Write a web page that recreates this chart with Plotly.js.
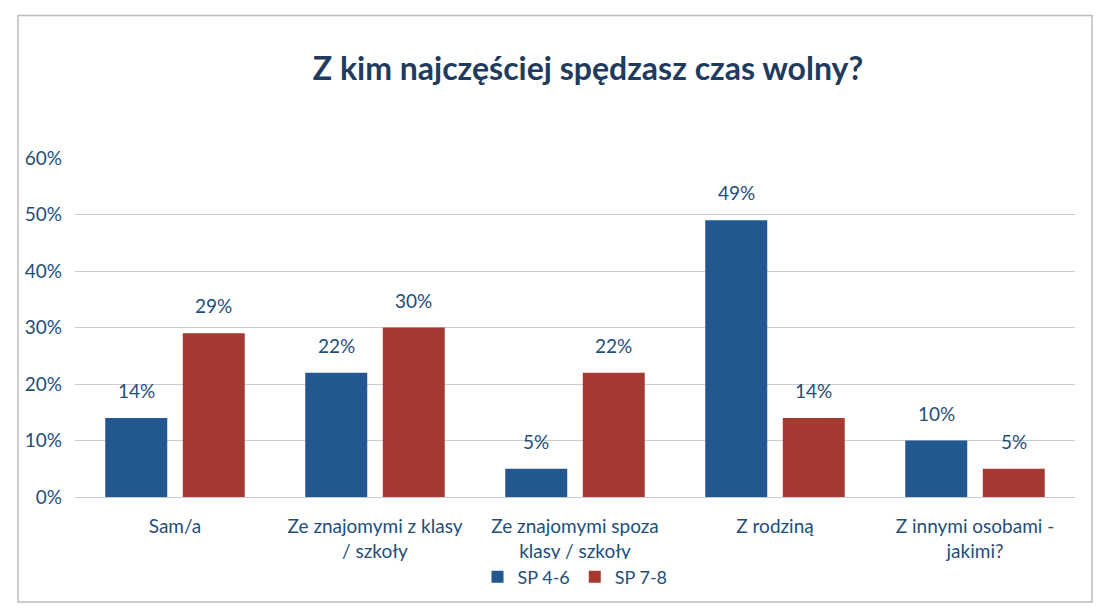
<!DOCTYPE html>
<html>
<head>
<meta charset="utf-8">
<script src="https://cdn.plot.ly/plotly-3.0.1.min.js"></script>
<style>html,body{margin:0;padding:0;background:#fff;}#chart{width:1099px;height:612px;}</style>
</head>
<body>
<div id="chart"></div>
<script>
const categories = [
  "Sam/a",
  "Ze znajomymi z klasy<br>/ szkoły",
  "Ze znajomymi spoza<br>klasy / szkoły",
  "Z rodziną",
  "Z innymi osobami -<br>jakimi?"
];
const seriesNames = ["SP 4-6", "SP 7-8"];
const sp46 = [0.14, 0.22, 0.05, 0.49, 0.10];
const sp78 = [0.29, 0.30, 0.22, 0.14, 0.05];
const colors = ["#22588f", "#a63a32"];

const font = "Lato, 'Open Sans', sans-serif";
const txtColor = "#1f4e79";

const W = 1099, H = 612;
const margin = {l: 75, r: 24, t: 158, b: 115};
const bargap = 0.225, bargroupgap = 0.2;

const mk = (name, vals, color) => ({
  type: "bar",
  name: name,
  x: categories,
  y: vals,
  marker: {color: color},
  hoverinfo: "none"
});

const data = [mk(seriesNames[0], sp46, colors[0]), mk(seriesNames[1], sp78, colors[1])];

// data labels placed above each bar, derived from the series arrays
const slotPx = (W - margin.l - margin.r) / categories.length;
const groupPx = slotPx * (1 - bargap);
const barSlot = groupPx / 2;
const annotations = [];
[sp46, sp78].forEach((vals, si) => {
  vals.forEach((v, j) => {
    annotations.push({
      x: categories[j], y: v, xref: "x", yref: "y",
      text: Math.round(v * 100) + "%",
      showarrow: false, yanchor: "bottom",
      xshift: (si === 0 ? -1 : 1) * barSlot / 2,
      yshift: 14,
      font: {family: font, size: 19, color: txtColor}
    });
  });
});

const layout = {
  width: W, height: H,
  paper_bgcolor: "#ffffff", plot_bgcolor: "#ffffff",
  margin: margin,
  barmode: "group",
  bargap: bargap,
  bargroupgap: bargroupgap,
  title: {
    text: "<b>Z kim najczęściej spędzasz czas wolny?</b>",
    font: {family: font, size: 32, color: "#1f3b5e"},
    x: 0.535, xanchor: "center", y: 0.888, yanchor: "middle"
  },
  xaxis: {
    tickfont: {family: font, size: 19, color: txtColor},
    showline: true, linecolor: "#c8ccd4", linewidth: 1,
    ticks: "", showgrid: false, ticklabelstandoff: 12
  },
  yaxis: {
    range: [0, 0.6], dtick: 0.1, tickformat: ".0%",
    tickfont: {family: font, size: 19, color: txtColor},
    showgrid: true, gridcolor: "#c8ccd4", gridwidth: 1,
    zeroline: false, showline: false, ticks: "", ticklabelstandoff: 12
  },
  legend: {
    orientation: "h", x: 0.5, xanchor: "center", y: -0.236, yanchor: "middle",
    font: {family: font, size: 18, color: txtColor},
    itemwidth: 30, tracegroupgap: 0
  },
  annotations: annotations,
  shapes: [
    {type: "rect", xref: "paper", yref: "paper", x0: -0.057, x1: 1.017, y0: -0.31, y1: 1.42,
     line: {color: "#b8bcc4", width: 1.5}, fillcolor: "rgba(0,0,0,0)"}
  ],
  showlegend: true
};

Plotly.newPlot("chart", data, layout, {displayModeBar: false, staticPlot: true});
</script>
</body>
</html>
